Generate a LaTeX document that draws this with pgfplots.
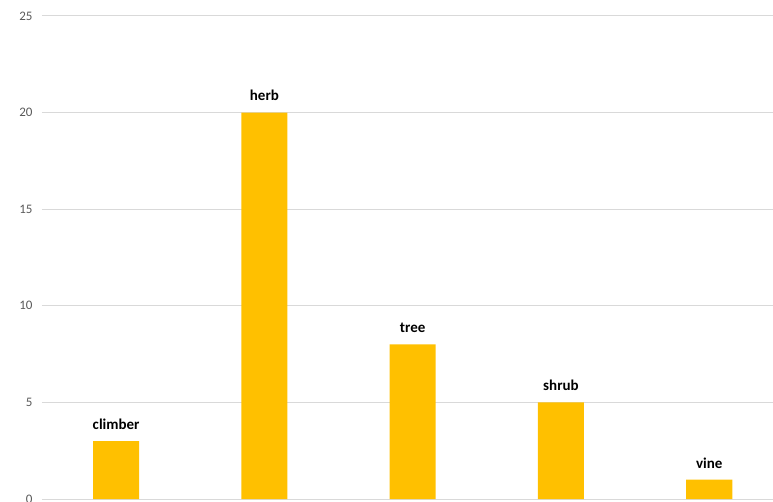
\documentclass[border=0pt]{standalone}
\usepackage{pgfplots}
\pgfplotsset{compat=1.18}
\usepackage{fontspec}
\setmainfont{Carlito}
\definecolor{bar}{HTML}{FFC000}
\definecolor{gridc}{HTML}{D9D9D9}
\definecolor{tickc}{HTML}{595959}
\begin{document}
\begin{tikzpicture}
\begin{axis}[
  at={(0,0)}, anchor=south west,
  scale only axis,
  width=731pt, height=483pt,
  xmin=-0.5, xmax=4.43,
  ymin=0, ymax=25,
  ytick={0,5,10,15,20,25},
  xtick=\empty,
  axis line style={draw=none},
  ymajorgrids,
  grid style={gridc, line width=1pt},
  major tick length=0pt,
  yticklabel style={font=\fontsize{13}{15}\selectfont, text=tickc, xshift=-6pt},
  /pgf/number format/assume math mode=true,
  clip=false,
]
\addplot[ybar, bar width=46pt, fill=bar, draw=none,
  nodes near coords, point meta=explicit symbolic,
  every node near coord/.append style={font=\bfseries\fontsize{15}{17}\selectfont, text=black, yshift=8pt}]
  coordinates {
  (0,3) [climber]
  (1,20) [herb]
  (2,8) [tree]
  (3,5) [shrub]
  (4,1) [vine]
  };
\end{axis}
\pgfresetboundingbox
\path[use as bounding box] (-42pt,-2pt) rectangle (731pt,499pt);
\end{tikzpicture}
\end{document}
